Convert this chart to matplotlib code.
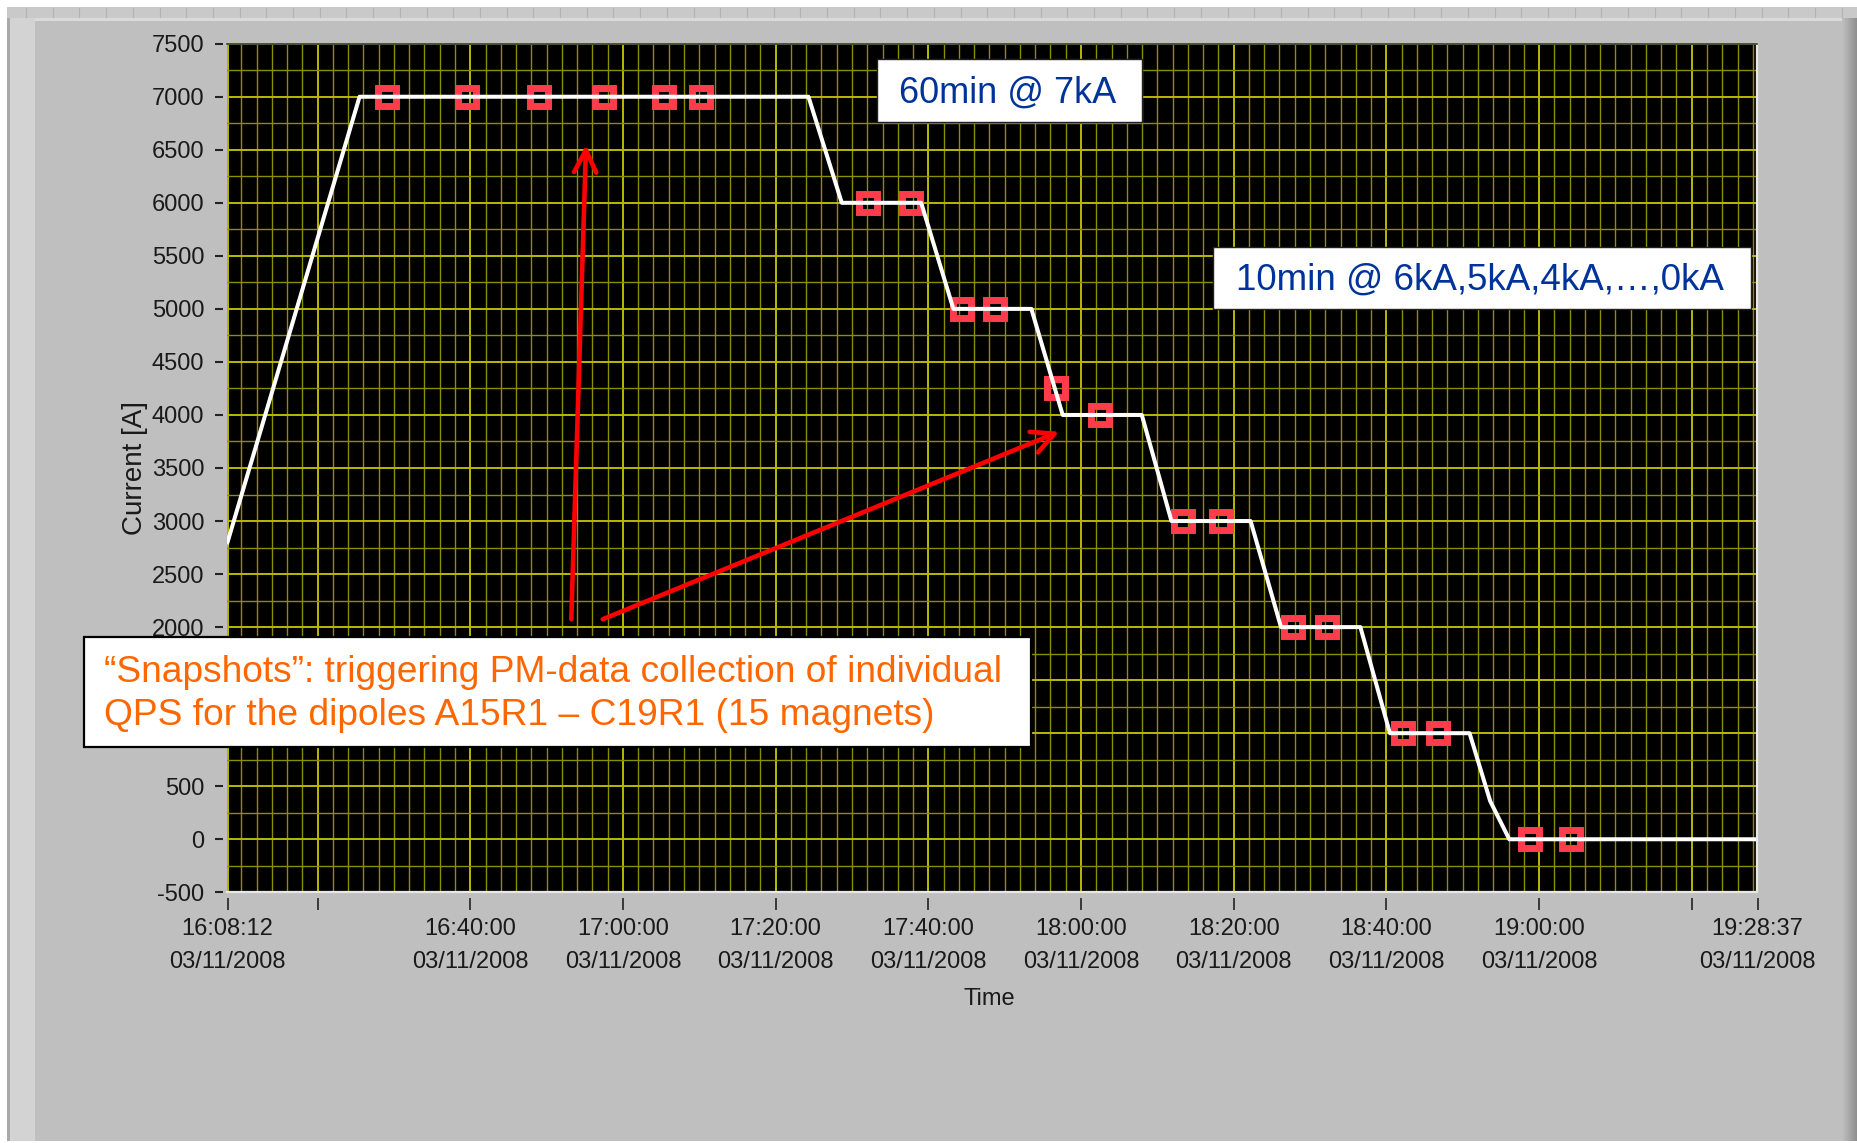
import matplotlib
matplotlib.use("Agg")
import matplotlib.pyplot as plt
import matplotlib.dates as mdates
from matplotlib.patches import Rectangle
from matplotlib.ticker import FixedLocator, FixedFormatter
from datetime import datetime
import numpy as np

plt.rcParams['font.family'] = ['Liberation Sans', 'DejaVu Sans']
plt.rcParams['axes.unicode_minus'] = False

DAY = "2008-11-03"
DATE_LABEL = "03/11/2008"

# main dipole current: ramp to 7 kA, hold, then 1 kA steps down to zero
profile_time = ["16:08:12", "16:25:30", "17:24:18", "17:28:40", "17:39:04",
                "17:43:17", "17:53:30", "17:57:36", "18:07:58", "18:11:51",
                "18:22:13", "18:26:12", "18:36:36", "18:40:28", "18:50:54",
                "18:53:36", "18:56:06", "19:28:37"]
profile_amps = [2800, 7000, 7000, 6000, 6000,
                5000, 5000, 4000, 4000, 3000,
                3000, 2000, 2000, 1000, 1000,
                360, 0, 0]

# QPS post-mortem snapshot triggers
snap_time = ["16:29:04", "16:39:38", "16:49:01", "16:57:31", "17:05:26",
             "17:10:13", "17:32:05", "17:37:41", "17:44:28", "17:48:43",
             "17:56:40", "18:02:32", "18:13:23", "18:18:20", "18:27:50",
             "18:32:10", "18:42:07", "18:46:47", "18:58:49", "19:04:08"]
snap_amps = [7000, 7000, 7000, 7000, 7000,
             7000, 6000, 6000, 5000, 5000,
             4250, 4000, 3000, 3000, 2000,
             2000, 1000, 1000, 0, 0]

tick_time = ["16:08:12", "16:20:00", "16:40:00", "17:00:00", "17:20:00",
             "17:40:00", "18:00:00", "18:20:00", "18:40:00", "19:00:00",
             "19:20:00", "19:28:37"]
tick_shown = [True, False, True, True, True,
              True, True, True, True, True,
              False, True]
y_ticks = [-500, 0, 500, 1000, 1500, 2000, 2500, 3000, 3500,
           4000, 4500, 5000, 5500, 6000, 6500, 7000, 7500]
# 1000 and 1500 sit behind the snapshot note
y_tick_labels = ["-500", "0", "500", "", "", "2000", "2500", "3000", "3500",
                 "4000", "4500", "5000", "5500", "6000", "6500", "7000", "7500"]

note_hold = "60min @ 7kA"
note_steps = "10min @ 6kA,5kA,4kA,\u2026,0kA"
note_snap = ["\u201cSnapshots\u201d: triggering PM-data collection of individual",
             "QPS for the dipoles A15R1 \u2013 C19R1 (15 magnets)"]


def to_dt(hms):
    return datetime.strptime(DAY + " " + hms, "%Y-%m-%d %H:%M:%S")


W, H = 1858, 1143


def fx(px):
    return px / W


def fy(py):
    return 1 - py / H


def fig_rect(x0, y0, x1, y1, **kw):
    fig.add_artist(Rectangle((fx(x0), fy(y1)), (x1 - x0) / W, (y1 - y0) / H,
                             transform=fig.transFigure, **kw))


fig = plt.figure(figsize=(W / 100, H / 100), dpi=100)
fig.patch.set_facecolor('#bfbfbf')

# window frame around the graph panel
fig_rect(0, 0, W, 7, fc='white', lw=0)
fig_rect(0, 7, W, 18, fc='#c9c9c9', lw=0)
fig_rect(0, 18, 1842, 21, fc='#dadada', lw=0)
for xr in np.arange(26, W, 26.7):
    fig.add_artist(plt.Line2D([fx(xr), fx(xr)], [fy(8), fy(17)], transform=fig.transFigure,
                              color='#b3b3b3', lw=0.8))
fig_rect(0, 0, 7, H, fc='white', lw=0)
fig_rect(7, 18, 10, H, fc='#a9a9a9', lw=0)
fig_rect(10, 18, 35, H, fc='#d3d3d3', lw=0)
fig_rect(0, H - 2, W, H, fc='white', lw=0)
edge = fig.add_axes([fx(1842), 0, 16 / W, fy(18)])
edge.imshow(np.linspace(0.75, 0.55, 32)[None, :], cmap='gray', vmin=0, vmax=1, aspect='auto')
edge.axis('off')

ax = fig.add_axes([fx(227.5), fy(892.3), (1757.5 - 227.5) / W, (892.3 - 43.7) / H])
ax.set_facecolor('black')
ax.set_xlim(to_dt(tick_time[0]), to_dt(tick_time[-1]))
ax.set_ylim(y_ticks[0], y_ticks[-1])

tick_dt = [to_dt(t) for t in tick_time]
tick_labels = [t + "\n" + DATE_LABEL if s else "" for t, s in zip(tick_time, tick_shown)]
ax.xaxis.set_major_locator(FixedLocator(mdates.date2num(tick_dt)))
ax.xaxis.set_major_formatter(FixedFormatter(tick_labels))
ax.xaxis.set_minor_locator(mdates.MinuteLocator(byminute=range(0, 60, 2)))
ax.yaxis.set_major_locator(FixedLocator(y_ticks))
ax.yaxis.set_major_formatter(FixedFormatter(y_tick_labels))
ax.yaxis.set_minor_locator(FixedLocator([v + 250 for v in y_ticks[:-1]]))

ax.set_axisbelow(True)
ax.grid(which='major', color='#b9b900', lw=1.4)
ax.grid(which='minor', color='#8c8c00', lw=1.0)
for tk in (ax.xaxis.get_major_ticks()[0], ax.xaxis.get_major_ticks()[-1],
           ax.yaxis.get_major_ticks()[0], ax.yaxis.get_major_ticks()[-1]):
    tk.gridline.set_visible(False)

for sp in ax.spines.values():
    sp.set_visible(False)
ax.spines['bottom'].set_position(('outward', 4))
ax.spines['left'].set_position(('outward', 3.2))
ax.tick_params(axis='x', which='major', direction='out', length=8.5, width=1.2,
               color='#222222', pad=6, labelsize=17, labelcolor='#1a1a1a')
ax.tick_params(axis='y', which='major', direction='out', length=5.5, width=1.5,
               color='#222222', pad=8, labelsize=17, labelcolor='#1a1a1a')
ax.tick_params(which='minor', length=0)
for lb in ax.get_xticklabels():
    lb.set_linespacing(1.62)

# bevel of the plot window
ax.plot([0, 1, 1], [0, 0, 1], transform=ax.transAxes, color='#e8e8e8', lw=1.6,
        clip_on=False, zorder=5)
ax.plot([0, 1], [1, 1], transform=ax.transAxes, color='#3a3a3a', lw=1.2,
        clip_on=False, zorder=5)

ax.set_xlabel("Time", fontsize=17, color='#1a1a1a')
ax.xaxis.set_label_coords(0.498, -0.113)
ax.set_ylabel("Current [A]", fontsize=20, color='#1a1a1a')
ax.yaxis.set_label_coords(-0.052, 0.5)

ax.plot([to_dt(t) for t in snap_time], snap_amps, ls='none', marker='s', ms=13,
        mew=5, mec='#ff3c4c', mfc='none', zorder=3)
ax.plot([to_dt(t) for t in profile_time], profile_amps, color='white', lw=2.9, zorder=4)

arrow = dict(arrowstyle="->,head_length=1.6,head_width=0.8", color='#ff0000', lw=3.3,
             shrinkA=0, shrinkB=0)
ax.annotate("", xy=(to_dt("16:55:10"), 6545), xytext=(to_dt("16:53:14"), 2074),
            arrowprops=arrow, annotation_clip=False, zorder=6)
ax.annotate("", xy=(to_dt("17:57:08"), 3842), xytext=(to_dt("16:57:21"), 2074),
            arrowprops=arrow, annotation_clip=False, zorder=6)

# text boxes
fig_rect(877, 59, 1142, 122, fc='white', ec='#202020', lw=1, zorder=8)
fig.text(fx(1008), fy(102.7), note_hold, color='#00339a', fontsize=26,
         ha='center', va='baseline', zorder=9)
fig_rect(1213, 247, 1751, 309, fc='white', ec='#202020', lw=1, zorder=8)
fig.text(fx(1480), fy(290), note_steps, color='#00339a', fontsize=26.5,
         ha='center', va='baseline', zorder=9)
fig_rect(84, 637, 1031, 747, fc='white', ec='black', lw=1.6, zorder=8)
fig.text(fx(103.6), fy(681.7), note_snap[0], color='#ff6600', fontsize=26.7,
         ha='left', va='baseline', zorder=9)
fig.text(fx(103.6), fy(725), note_snap[1], color='#ff6600', fontsize=26.7,
         ha='left', va='baseline', zorder=9)

fig.savefig("out.png", dpi=100, facecolor=fig.get_facecolor())
